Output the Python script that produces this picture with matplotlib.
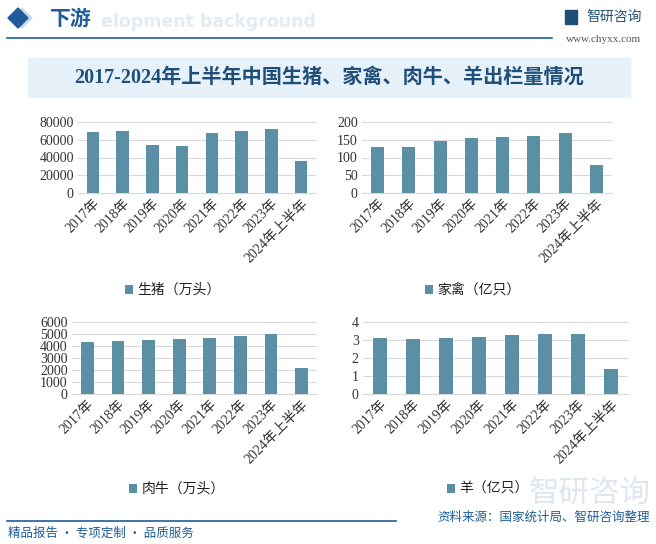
import matplotlib
matplotlib.use("Agg")
import matplotlib.pyplot as plt
from matplotlib.patches import Rectangle, Polygon

plt.rcParams["font.family"] = ["Noto Sans CJK SC", "DejaVu Sans"]

# data
years = ["2017年", "2018年", "2019年", "2020年", "2021年", "2022年", "2023年", "2024年上半年"]
pig = [68861, 69382, 54419, 52704, 67128, 69995, 72662, 36395]
poultry = [130.0, 130.9, 146.4, 155.7, 157.4, 161.4, 168.2, 78.1]
cattle = [4340, 4398, 4534, 4565, 4707, 4840, 5023, 2159]
sheep = [3.13, 3.07, 3.13, 3.18, 3.29, 3.35, 3.35, 1.40]

titles = ["生猪（万头）", "家禽（亿只）", "肉牛（万头）", "羊（亿只）"]
ymax = [80000, 200, 6000, 4]
ystep = [20000, 50, 1000, 1]

W, H = 656, 544
fig = plt.figure(figsize=(W / 100, H / 100), dpi=100)
fig.patch.set_facecolor("white")

dark = "#1f5c99"
bar_color = "#5b8fa6"
serif = ["Liberation Serif", "Noto Sans CJK SC"]


def fx(x):
    return x / W


def fy(y):
    return 1 - y / H


# header
fig.patches.append(Polygon([[fx(22), fy(8)], [fx(32), fy(18)], [fx(22), fy(28)], [fx(12), fy(18)]],
                           closed=True, transform=fig.transFigure, color="#c9dcee"))
fig.patches.append(Polygon([[fx(18), fy(8)], [fx(28), fy(18)], [fx(18), fy(28)], [fx(8), fy(18)]],
                           closed=True, transform=fig.transFigure, color=dark))
fig.text(fx(101), fy(22), "elopment background", fontsize=12.5, fontweight="bold",
         color="#e3ebf3", va="center", ha="left", family="DejaVu Sans")
fig.text(fx(50), fy(18), "下游", fontsize=15, fontweight="bold", color=dark, va="center", ha="left")
fig.lines.append(plt.Line2D([fx(7), fx(552)], [fy(38), fy(38)], transform=fig.transFigure,
                            color=dark, lw=1.2))
fig.patches.append(Rectangle((fx(565), fy(24)), fx(12), 14 / H, transform=fig.transFigure,
                             color="#1f4e79"))
fig.text(fx(586), fy(17), "智研咨询", fontsize=10, color="#1f4e79", va="center", ha="left")
fig.text(fx(641), fy(39), "www.chyxx.com", fontsize=8, color="#555555", va="center", ha="right",
         family="Liberation Serif")

# title band
fig.patches.append(Rectangle((fx(28), fy(97)), fx(602), 39 / H, transform=fig.transFigure,
                             color="#e6f1fa", zorder=0))
fig.text(fx(329), fy(78), "2017-2024年上半年中国生猪、家禽、肉牛、羊出栏量情况", fontsize=14.5,
         fontweight="bold", color="#1f4e79", ha="center", va="center",
         family=["Liberation Serif", "Noto Sans CJK SC"])

# watermark
fig.text(fx(590), fy(493), "智研咨询", fontsize=22, color="#dfe6ee", ha="center", va="center",
         zorder=0)

# charts: left, right, top, bottom (pixels), legend x, legend y
boxes = [
    (78, 316, 122, 193, 173, 290),
    (362, 612, 122, 193, 473, 290),
    (72, 317, 322, 394, 177, 489),
    (363, 628, 322, 394, 488, 489),
]
series = [pig, poultry, cattle, sheep]

for i, (vals, box) in enumerate(zip(series, boxes)):
    l, r, t, b, lx, ly = box
    ax = fig.add_axes([fx(l), fy(b), fx(r - l), (b - t) / H])
    bars = ax.bar(range(len(years)), vals, width=0.42, color=bar_color, zorder=3)
    ax.set_ylim(0, ymax[i])
    ax.set_xlim(-0.5, len(years) - 0.5)
    ax.set_yticks([k * ystep[i] for k in range(int(ymax[i] / ystep[i]) + 1)])
    ax.set_xticks(range(len(years)))
    ax.set_xticklabels(years, rotation=45, ha="right", rotation_mode="anchor",
                       family=serif, fontsize=10, color="#333333")
    for lab in ax.get_yticklabels():
        lab.set_family(serif)
        lab.set_fontsize(10)
        lab.set_color("#333333")
    ax.grid(axis="y", color="#d9d9d9", lw=0.8, zorder=0)
    for s in ["top", "right", "left"]:
        ax.spines[s].set_visible(False)
    ax.spines["bottom"].set_color("#d9d9d9")
    ax.tick_params(length=0, pad=3)
    ax.set_facecolor("none")
    fig.legend([bars], [titles[i]], loc="center", bbox_to_anchor=(fx(lx), fy(ly)),
               frameon=False, fontsize=10, handlelength=0.6, handleheight=0.6,
               handletextpad=0.3, labelcolor="#222222")

# footer
fig.lines.append(plt.Line2D([fx(7), fx(396)], [fy(521), fy(521)], transform=fig.transFigure,
                            color=dark, lw=1.2))
fig.text(fx(8), fy(533), "精品报告 · 专项定制 · 品质服务", fontsize=9, color=dark,
         ha="left", va="center")
fig.text(fx(650), fy(517), "资料来源：国家统计局、智研咨询整理", fontsize=9, color=dark,
         ha="right", va="center")

fig.savefig("out.png", dpi=100)
